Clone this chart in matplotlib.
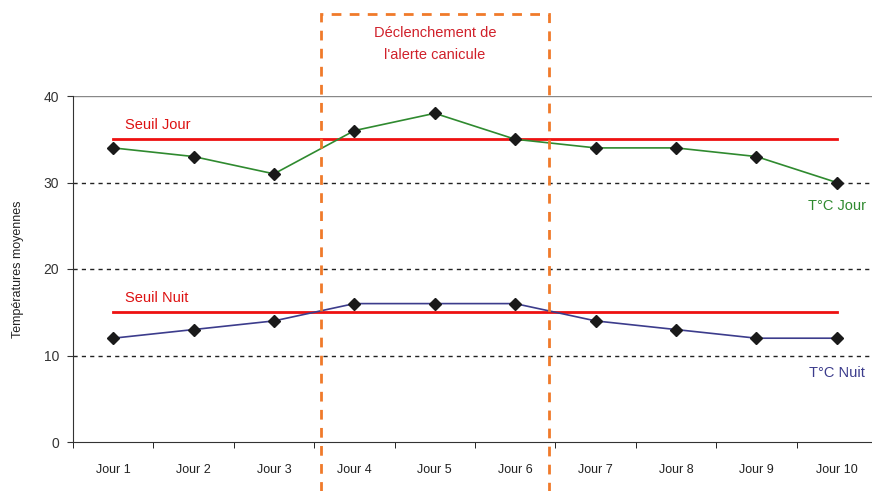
import matplotlib.pyplot as plt
from matplotlib.patches import Rectangle

plt.rcParams['font.family'] = ['Liberation Sans', 'DejaVu Sans']

# data
jours = ['Jour 1', 'Jour 2', 'Jour 3', 'Jour 4', 'Jour 5',
         'Jour 6', 'Jour 7', 'Jour 8', 'Jour 9', 'Jour 10']
t_jour = [34, 33, 31, 36, 38, 35, 34, 34, 33, 30]
t_nuit = [12, 13, 14, 16, 16, 16, 14, 13, 12, 12]
seuil_jour = 35
seuil_nuit = 15

W, H = 872, 491
fig = plt.figure(figsize=(W / 100, H / 100), dpi=100)
ax = fig.add_axes([73 / W, 1 - 442 / H, 804 / W, (442 - 96) / H])

x = list(range(len(jours)))
ax.plot(x, t_jour, color='#2f8a2f', lw=1.2, marker='D', ms=6,
        mfc='#1a1a1a', mec='#1a1a1a', zorder=4)
ax.plot(x, t_nuit, color='#3c3c8c', lw=1.2, marker='D', ms=6,
        mfc='#1a1a1a', mec='#1a1a1a', zorder=4)
ax.plot([x[0], x[-1]], [seuil_jour, seuil_jour], color='#ee1111', lw=2, zorder=3)
ax.plot([x[0], x[-1]], [seuil_nuit, seuil_nuit], color='#ee1111', lw=2, zorder=3)

ax.set_xlim(-0.5, 9.5)
ax.set_ylim(0, 40)
ax.set_yticks([0, 10, 20, 30, 40])
ax.set_xticks(x)
ax.set_xticklabels(jours)
ax.set_xticks([i + 0.5 for i in range(-1, 10)], minor=True)
ax.tick_params(axis='x', which='major', length=0, pad=16, labelsize=9, colors='#222222')
ax.tick_params(axis='x', which='minor', length=4, direction='out')
ax.tick_params(axis='y', length=4, pad=6, labelsize=10, colors='#333333')
for v in [10, 20, 30]:
    ax.axhline(v, color='#222222', lw=1, ls=(0, (3, 3)), zorder=1)
ax.axhline(40, color='#888888', lw=1, zorder=1)
for s in ['top', 'right']:
    ax.spines[s].set_visible(False)
ax.spines['left'].set_color('#333333')
ax.spines['bottom'].set_color('#333333')
ax.set_ylabel('Températures moyennes', fontsize=9, labelpad=14, color='#222222')

ax.text(0.15, 36.2, 'Seuil Jour', color='#dd1111', fontsize=10.5)
ax.text(0.15, 16.2, 'Seuil Nuit', color='#dd1111', fontsize=10.5)
ax.text(9.0, 26.8, 'T°C Jour', color='#2f8a2f', fontsize=10.5, ha='center')
ax.text(9.0, 7.5, 'T°C Nuit', color='#3c3c8c', fontsize=10.5, ha='center')

# zone d'alerte
fig.patches.append(Rectangle((321 / W, -0.05), (549 - 321) / W, 1.05 - 14 / H,
                             transform=fig.transFigure, fill=False,
                             ec='#f07a2a', lw=2, ls=(0, (3.5, 3)), zorder=10))
fig.text(435 / W, 1 - 44 / H, 'Déclenchement de\nl\'alerte canicule',
         color='#d0202a', fontsize=10.5, ha='center', va='center', linespacing=1.75)

fig.savefig('out.png', dpi=100)
